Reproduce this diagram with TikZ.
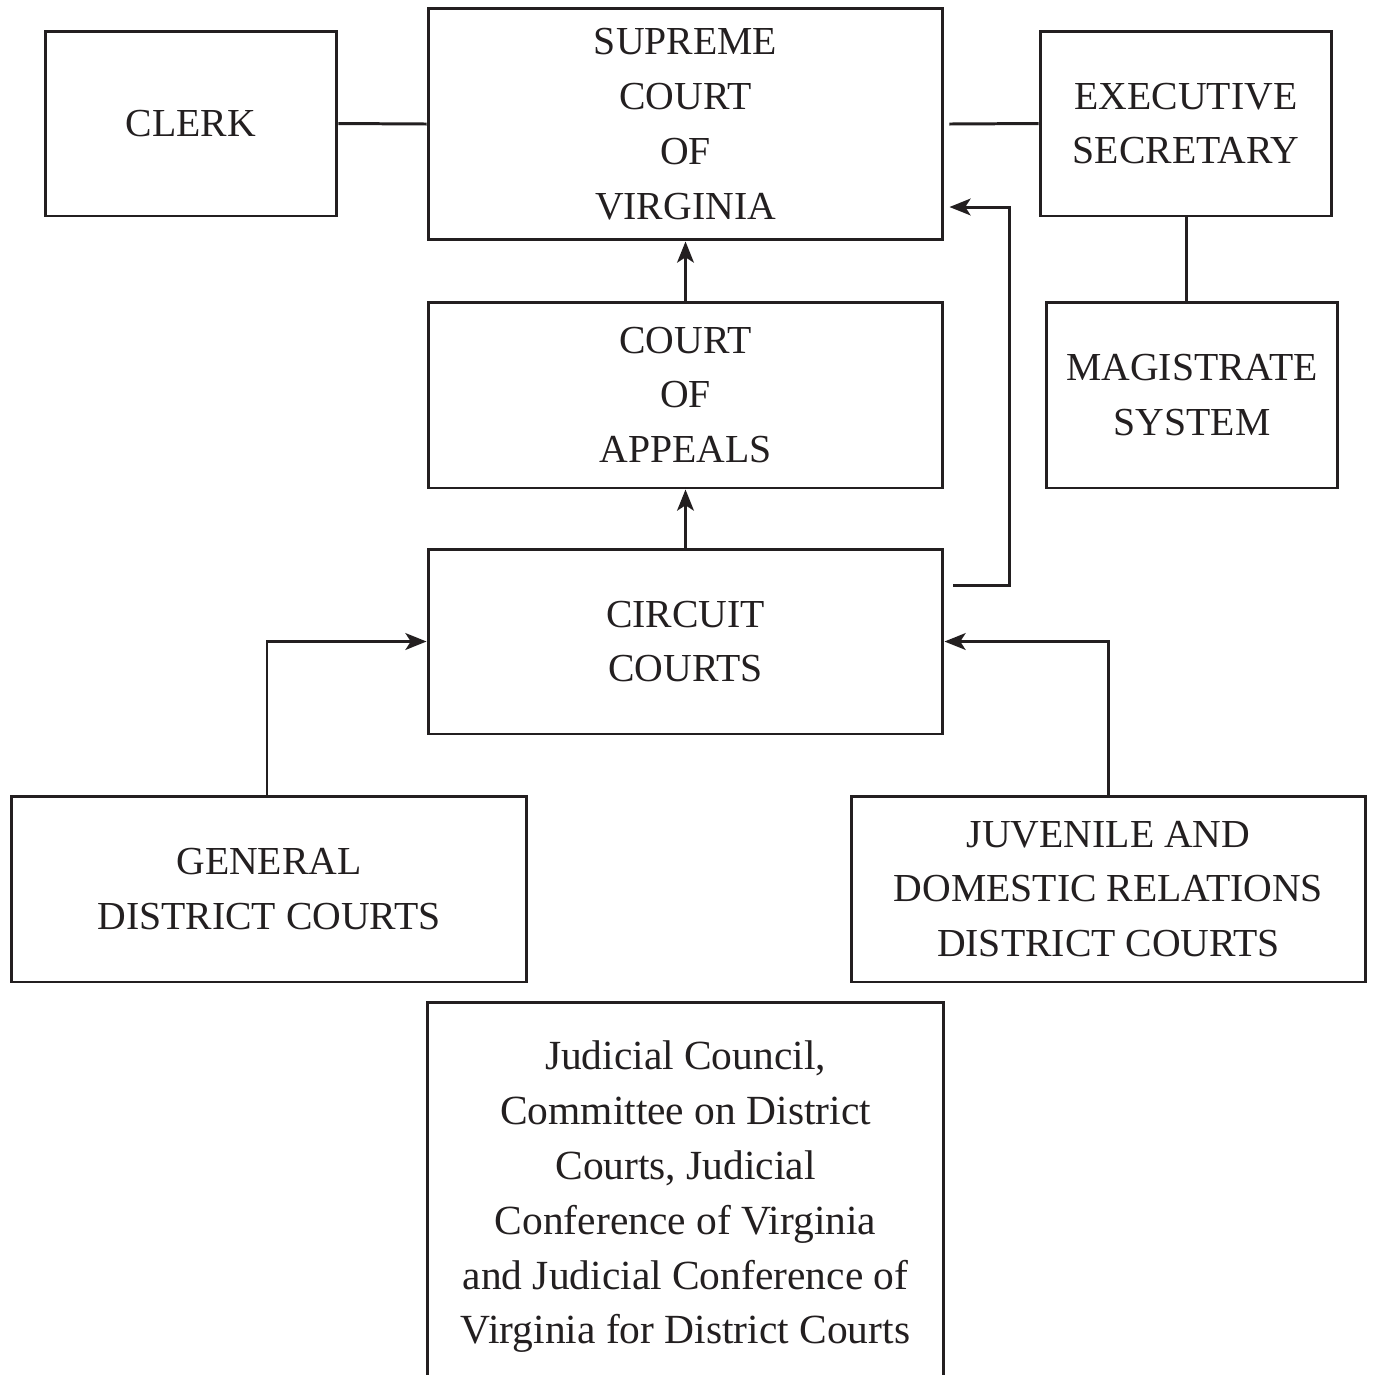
\documentclass[tikz,border=0pt]{standalone}
\usepackage{fontspec}
\setmainfont{Liberation Serif}
\usetikzlibrary{arrows.meta}
\definecolor{ink}{HTML}{231F20}
\tikzset{
  box/.style={draw=ink, line width=1.7pt, inner sep=0pt, align=center, text=ink,
    font=\fontsize{22.6}{31.2}\selectfont},
  openbox/.style={inner sep=0pt, align=center, text=ink,
    font=\fontsize{23.6}{31.2}\selectfont},
  conn/.style={draw=ink, line width=1.7pt},
  arr/.style={conn, -{Stealth[length=12pt,width=9.5pt,inset=3pt]}}
}
\begin{document}
\begin{tikzpicture}[x=0.02cm,y=-0.02cm]
\useasboundingbox (0,0) rectangle (1375,1374);
\fill[white] (0,0) rectangle (1375,1374);
\node[box, minimum width=5.84cm, minimum height=3.7cm] (clerk) at (191,123.5) {CLERK};
\node[box, minimum width=10.3cm, minimum height=4.64cm] (supreme) at (685.5,124) {SUPREME\\COURT\\OF\\VIRGINIA};
\node[box, minimum width=5.84cm, minimum height=3.7cm] (exec) at (1186,123.5) {EXECUTIVE\\SECRETARY};
\node[box, minimum width=5.84cm, minimum height=3.72cm] (mag) at (1192,395) {MAGISTRATE\\SYSTEM};
\node[box, minimum width=10.3cm, minimum height=3.72cm] (appeals) at (685.5,395) {COURT\\OF\\APPEALS};
\node[box, minimum width=10.3cm, minimum height=3.7cm] (circuit) at (685.5,641.5) {CIRCUIT\\COURTS};
\node[box, minimum width=10.32cm, minimum height=3.72cm] (general) at (269,889) {GENERAL\\DISTRICT COURTS};
\node[box, minimum width=10.3cm, minimum height=3.72cm] (juvenile) at (1108.5,889) {JUVENILE AND\\DOMESTIC RELATIONS\\DISTRICT COURTS};
\node[openbox, minimum width=10.3cm, minimum height=7.76cm] (council) at (685.5,1197) {Judicial Council,\\Committee on District\\Courts, Judicial\\Conference of Virginia\\and Judicial Conference of\\Virginia for District Courts};
\draw[conn] (council.south west) -- (council.north west) -- (council.north east) -- (council.south east);
\draw[conn] (clerk.east) -- (supreme.west);
\draw[conn] ([xshift=0.1cm]supreme.east) -- (exec.west);
\draw[conn] (exec.south) -- (exec.south |- mag.north);
\draw[arr] (appeals.north) -- (supreme.south);
\draw[arr] (circuit.north) -- (appeals.south);
\draw[arr] ([shift={(9,-56.5)}]circuit.east) -- ++(56,0) |- ([shift={(5,83)}]supreme.east);
\draw[arr] ([xshift=-0.04cm]general.north) |- (circuit.west);
\draw[arr] (juvenile.north) |- (circuit.east);
\end{tikzpicture}
\end{document}
